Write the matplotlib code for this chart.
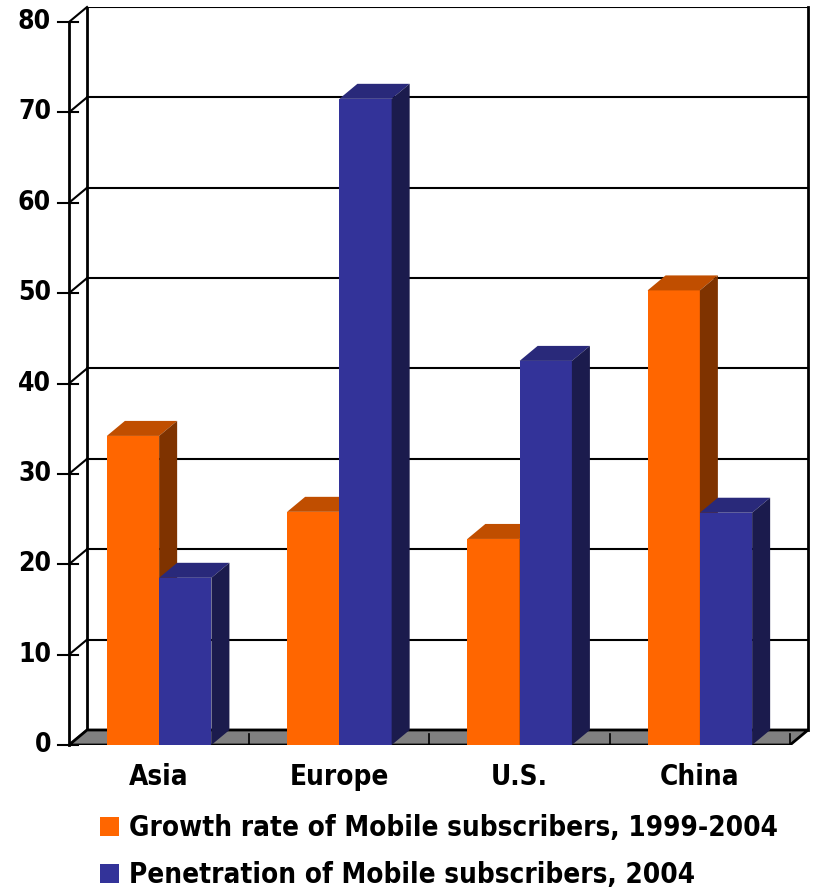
import matplotlib
matplotlib.use("Agg")
import matplotlib.pyplot as plt
from matplotlib.patches import Polygon, Patch
from matplotlib import font_manager

categories = ["Asia", "Europe", "U.S.", "China"]
growth = [34.2, 25.8, 22.8, 50.3]
penetration = [18.5, 71.5, 42.5, 25.7]
series_names = ["Growth rate of Mobile subscribers, 1999-2004",
                "Penetration of Mobile subscribers, 2004"]
yticks = [0, 10, 20, 30, 40, 50, 60, 70, 80]

FONT = dict(family="DejaVu Sans", fontstretch="condensed", fontweight="bold")

W, H = 815, 892
fig = plt.figure(figsize=(W / 100, H / 100), dpi=100)
ax = fig.add_axes([69 / W, (H - 745) / H, 739 / W, 738 / H])
DX, DY = 0.1, 1.66
ax.set_xlim(-0.5, 3.5 + DX)
ax.set_ylim(0, 80 + DY)
ax.axis("off")

lw = 2
floor = Polygon([(-0.5, 0), (3.5, 0), (3.5 + DX, DY), (-0.5 + DX, DY)],
                closed=True, facecolor="#808080", edgecolor="black", lw=lw, zorder=1)
ax.add_patch(floor)
for t in yticks:
    ax.plot([-0.5 + DX, 3.5 + DX], [t + DY, t + DY], color="black", lw=1.5, zorder=0.5)
    ax.plot([-0.5, -0.5 + DX], [t, t + DY], color="black", lw=1.5, zorder=0.5, clip_on=False)
    ax.plot([-0.56, -0.45], [t, t], color="black", lw=1.5, clip_on=False)
    ax.text(-0.6, t, str(t), ha="right", va="center", fontsize=19, **FONT)
ax.plot([-0.5 + DX, -0.5 + DX], [DY, 80 + DY], color="black", lw=lw, zorder=0.5)
ax.plot([3.5 + DX, 3.5 + DX], [DY, 80 + DY], color="black", lw=lw, zorder=0.5, clip_on=False)
ax.plot([-0.5, -0.5], [0, 80], color="black", lw=lw, clip_on=False)
for xt in [0.5, 1.5, 2.5, 3.5]:
    ax.plot([xt, xt], [0, 1.2], color="black", lw=1.2, zorder=1.5)

bw = 0.29
cols = [("#FF6600", "#C04E00", "#7F3300"), ("#333399", "#29297A", "#1B1B4D")]
for si, vals in enumerate([growth, penetration]):
    front, top, side = cols[si]
    xs = [i + (si - 0.5) * bw for i in range(len(categories))]
    ax.bar(xs, vals, width=bw, color=front, zorder=3 + si)
    for x, v in zip(xs, vals):
        x0, x1 = x - bw / 2, x + bw / 2
        ax.add_patch(Polygon([(x0, v), (x1, v), (x1 + DX, v + DY), (x0 + DX, v + DY)],
                             closed=True, facecolor=top, edgecolor="none", zorder=3 + si))
        ax.add_patch(Polygon([(x1, 0), (x1 + DX, DY), (x1 + DX, v + DY), (x1, v)],
                             closed=True, facecolor=side, edgecolor="none", zorder=3 + si))

for i, c in enumerate(categories):
    ax.text(i, -3.5, c, ha="center", va="center", fontsize=20, **FONT)

handles = [Patch(facecolor=cols[0][0]), Patch(facecolor=cols[1][0])]
fig.legend(handles, series_names, loc="upper left", bbox_to_anchor=(100 / W, 1 - 814 / H),
           frameon=False, handlelength=0.7, handleheight=0.7, handletextpad=0.35,
           labelspacing=0.7, borderaxespad=0, borderpad=0,
           prop=font_manager.FontProperties(family="DejaVu Sans", stretch="condensed", weight="bold", size=20))

fig.savefig("out.png", dpi=100)
